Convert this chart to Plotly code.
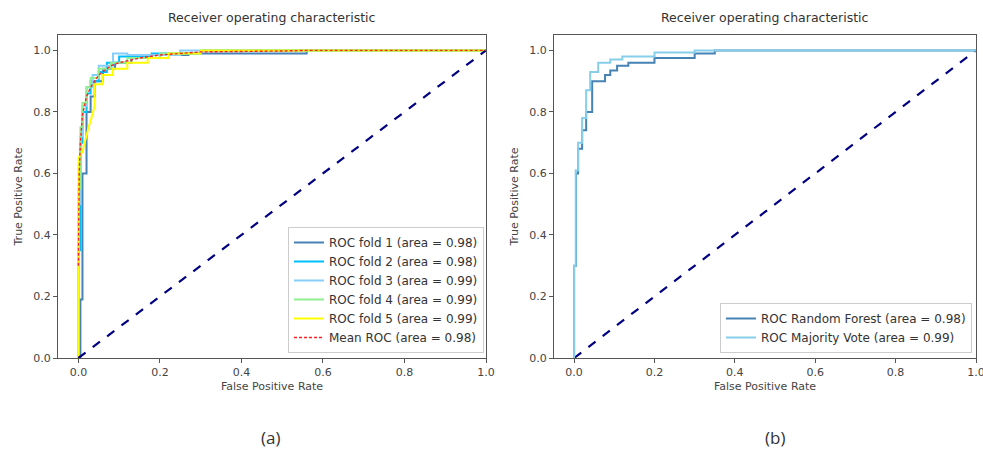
import plotly.graph_objects as go

# ---------------- data ----------------
fold_names = ["ROC fold 1 (area = 0.98)", "ROC fold 2 (area = 0.98)", "ROC fold 3 (area = 0.99)",
              "ROC fold 4 (area = 0.99)", "ROC fold 5 (area = 0.99)"]
fold_colors = ["#4682b4", "#00bfff", "#87cefa", "#90ee90", "#ffff00"]

fpr1 = [0, 0.005, 0.005, 0.01, 0.01, 0.02, 0.02, 0.03, 0.03, 0.04, 0.04, 0.06, 0.06, 0.09, 0.09, 0.13, 0.13, 0.2, 0.2, 0.27, 0.27, 0.56, 0.56, 1.0]
tpr1 = [0, 0, 0.19, 0.19, 0.6, 0.6, 0.8, 0.8, 0.85, 0.85, 0.9, 0.9, 0.94, 0.94, 0.96, 0.96, 0.975, 0.975, 0.985, 0.985, 0.99, 0.99, 1.0, 1.0]
fpr2 = [0, 0, 0.005, 0.005, 0.01, 0.01, 0.02, 0.02, 0.03, 0.03, 0.05, 0.05, 0.07, 0.07, 0.1, 0.1, 0.18, 0.18, 0.3, 0.3, 1]
tpr2 = [0, 0.35, 0.35, 0.7, 0.7, 0.8, 0.8, 0.86, 0.86, 0.9, 0.9, 0.93, 0.93, 0.96, 0.96, 0.98, 0.98, 0.99, 0.99, 1, 1]
fpr3 = [0, 0, 0.005, 0.005, 0.01, 0.01, 0.02, 0.02, 0.035, 0.035, 0.05, 0.05, 0.085, 0.085, 0.12, 0.12, 0.25, 0.25, 1]
tpr3 = [0, 0.5, 0.5, 0.72, 0.72, 0.82, 0.82, 0.88, 0.88, 0.92, 0.92, 0.95, 0.95, 0.99, 0.99, 0.985, 0.985, 1, 1]
fpr4 = [0, 0, 0.005, 0.005, 0.01, 0.01, 0.02, 0.02, 0.03, 0.03, 0.05, 0.05, 0.08, 0.08, 0.12, 0.12, 0.2, 0.2, 0.3, 0.3, 1]
tpr4 = [0, 0.55, 0.55, 0.75, 0.75, 0.83, 0.83, 0.88, 0.88, 0.91, 0.91, 0.94, 0.94, 0.96, 0.96, 0.975, 0.975, 0.99, 0.99, 1, 1]
fpr5 = [0, 0, 0.01, 0.015, 0.02, 0.025, 0.03, 0.035, 0.04, 0.04, 0.06, 0.06, 0.085, 0.085, 0.12, 0.12, 0.17, 0.17, 0.22, 0.22, 0.3, 0.3, 1]
tpr5 = [0, 0.65, 0.67, 0.7, 0.72, 0.75, 0.77, 0.8, 0.82, 0.89, 0.89, 0.92, 0.92, 0.94, 0.94, 0.96, 0.96, 0.975, 0.975, 0.99, 0.99, 1, 1]
fold_fpr = [fpr1, fpr2, fpr3, fpr4, fpr5]
fold_tpr = [tpr1, tpr2, tpr3, tpr4, tpr5]

mean_name = "Mean ROC (area = 0.98)"
mean_fpr = [0, 0.002, 0.005, 0.01, 0.02, 0.03, 0.05, 0.08, 0.1, 0.15, 0.2, 0.3, 0.5, 0.56, 1.0]
mean_tpr = [0.3, 0.6, 0.7, 0.79, 0.85, 0.88, 0.92, 0.95, 0.96, 0.975, 0.985, 0.995, 0.998, 1.0, 1.0]

chance = [0, 1]

rf_name = "ROC Random Forest (area = 0.98)"
rf_fpr = [0, 0, 0.005, 0.005, 0.01, 0.01, 0.02, 0.02, 0.03, 0.03, 0.045, 0.045, 0.077, 0.077, 0.09, 0.09, 0.107, 0.107, 0.135, 0.135, 0.2, 0.2, 0.3, 0.3, 0.35, 0.35, 1]
rf_tpr = [0, 0.3, 0.3, 0.6, 0.6, 0.68, 0.68, 0.74, 0.74, 0.8, 0.8, 0.9, 0.9, 0.92, 0.92, 0.935, 0.935, 0.95, 0.95, 0.96, 0.96, 0.975, 0.975, 0.99, 0.99, 1, 1]
mv_name = "ROC Majority Vote (area = 0.99)"
mv_fpr = [0, 0, 0.004, 0.004, 0.01, 0.01, 0.02, 0.02, 0.03, 0.03, 0.04, 0.04, 0.06, 0.06, 0.09, 0.09, 0.12, 0.12, 0.2, 0.2, 0.3, 0.3, 1]
mv_tpr = [0, 0.3, 0.3, 0.61, 0.61, 0.7, 0.7, 0.78, 0.78, 0.87, 0.87, 0.93, 0.93, 0.96, 0.96, 0.97, 0.97, 0.98, 0.98, 0.993, 0.993, 1, 1]

xticks = [0.0, 0.2, 0.4, 0.6, 0.8, 1.0]
yticks = [0.0, 0.2, 0.4, 0.6, 0.8, 1.0]
tick_text = ["0.0", "0.2", "0.4", "0.6", "0.8", "1.0"]

# ---------------- figure ----------------
fig = go.Figure()
FONT = "DejaVu Sans"

for name, col, fx, ty in zip(fold_names, fold_colors, fold_fpr, fold_tpr):
    fig.add_trace(go.Scatter(x=fx, y=ty, mode="lines", name=name, line=dict(color=col, width=2),
                             xaxis="x", yaxis="y", legend="legend"))
fig.add_trace(go.Scatter(x=chance, y=chance, mode="lines", showlegend=False,
                         line=dict(color="#000080", width=2.2, dash="dash"), xaxis="x", yaxis="y"))
fig.add_trace(go.Scatter(x=mean_fpr, y=mean_tpr, mode="lines", name=mean_name,
                         line=dict(color="#ff2020", width=1.4, dash="3px,2px"), xaxis="x", yaxis="y",
                         legend="legend"))

fig.add_trace(go.Scatter(x=chance, y=chance, mode="lines", showlegend=False,
                         line=dict(color="#000080", width=2.2, dash="dash"), xaxis="x2", yaxis="y2"))
fig.add_trace(go.Scatter(x=rf_fpr, y=rf_tpr, mode="lines", name=rf_name,
                         line=dict(color="#4682b4", width=2), xaxis="x2", yaxis="y2", legend="legend2"))
fig.add_trace(go.Scatter(x=mv_fpr, y=mv_tpr, mode="lines", name=mv_name,
                         line=dict(color="#87ceeb", width=2), xaxis="x2", yaxis="y2", legend="legend2"))

ax_common = dict(showline=True, linecolor="#555555", linewidth=1, mirror=True, ticks="outside",
                 ticklen=4, tickcolor="#555555", showgrid=False, zeroline=False, automargin=False,
                 ticklabeloverflow="allow",
                 tickfont=dict(family=FONT, size=11, color="#444444"),
                 title_font=dict(family=FONT, size=11, color="#444444"))

y0, y1 = 96 / 454, (454 - 35) / 454
fig.update_layout(
    width=983, height=454, margin=dict(l=0, r=0, t=0, b=0, autoexpand=False),
    paper_bgcolor="white", plot_bgcolor="white",
    xaxis=dict(domain=[58 / 983, 486 / 983], range=[-0.05, 1.0], tickvals=xticks, ticktext=tick_text,
               title=dict(text="False Positive Rate", standoff=4), anchor="y", **ax_common),
    yaxis=dict(domain=[y0, y1], range=[0, 1.05], tickvals=yticks, ticktext=tick_text,
               title=dict(text="True Positive Rate", standoff=8), anchor="x", **ax_common),
    xaxis2=dict(domain=[554 / 983, 976 / 983], range=[-0.05, 1.0], tickvals=xticks, ticktext=tick_text,
                title=dict(text="False Positive Rate", standoff=4), anchor="y2", **ax_common),
    yaxis2=dict(domain=[y0, y1], range=[0, 1.05], tickvals=yticks, ticktext=tick_text,
                title=dict(text="True Positive Rate", standoff=8), anchor="x2", **ax_common),
    legend=dict(x=484 / 983, y=(454 - 353) / 454, xanchor="right", yanchor="bottom",
                bgcolor="rgba(255,255,255,0.9)", bordercolor="#cccccc", borderwidth=1,
                font=dict(family=FONT, size=12, color="#333333"), tracegroupgap=0),
    legend2=dict(x=972 / 983, y=(454 - 353) / 454, xanchor="right", yanchor="bottom",
                 bgcolor="rgba(255,255,255,0.9)", bordercolor="#cccccc", borderwidth=1,
                 font=dict(family=FONT, size=12, color="#333333"), tracegroupgap=0),
    annotations=[
        dict(text="Receiver operating characteristic", x=(58 + 486) / 2 / 983, y=(454 - 18) / 454,
             xref="paper", yref="paper", xanchor="center", yanchor="middle", showarrow=False,
             font=dict(family=FONT, size=12.5, color="#333333")),
        dict(text="Receiver operating characteristic", x=(554 + 976) / 2 / 983, y=(454 - 18) / 454,
             xref="paper", yref="paper", xanchor="center", yanchor="middle", showarrow=False,
             font=dict(family=FONT, size=12.5, color="#333333")),
        dict(text="(a)", x=270 / 983, y=(454 - 437) / 454, xref="paper", yref="paper",
             xanchor="center", yanchor="middle", showarrow=False,
             font=dict(family="Open Sans", size=17, color="#333333")),
        dict(text="(b)", x=775 / 983, y=(454 - 437) / 454, xref="paper", yref="paper",
             xanchor="center", yanchor="middle", showarrow=False,
             font=dict(family="Open Sans", size=17, color="#333333")),
    ],
)

fig.write_html("out.html", config={"displayModeBar": False},
               post_script="document.body.style.margin='0';document.body.style.overflow='hidden';")
